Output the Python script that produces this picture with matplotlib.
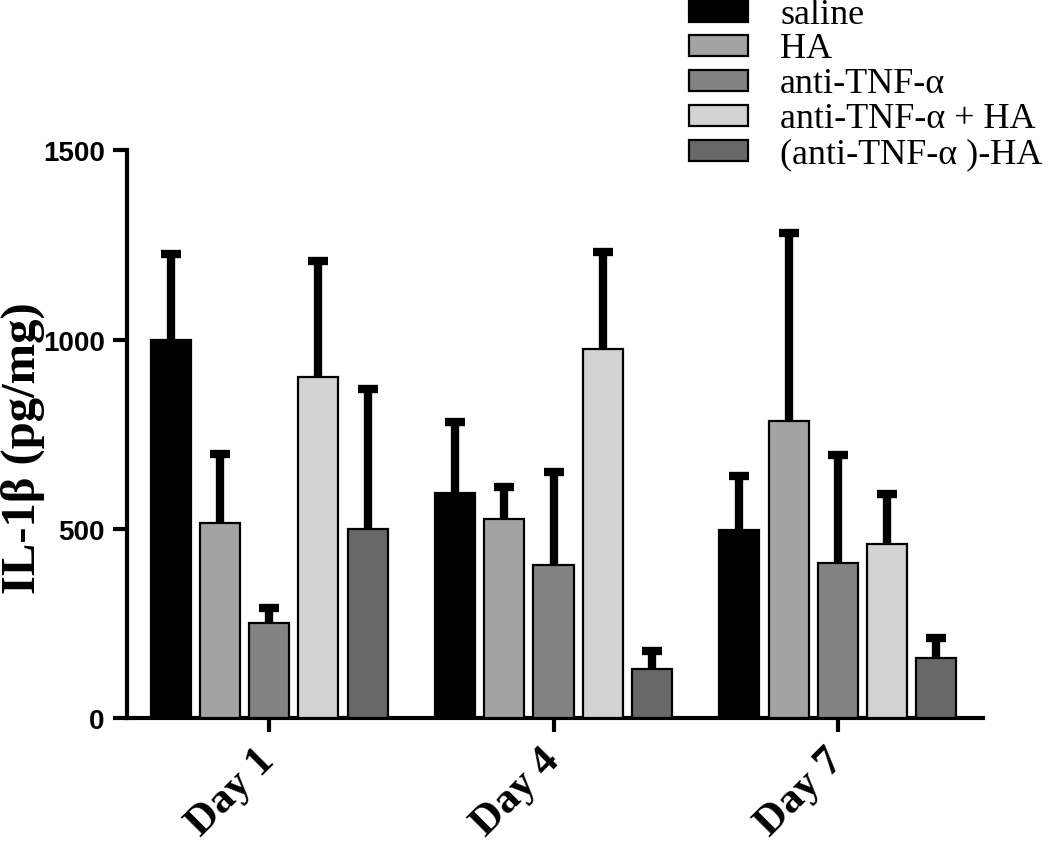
import matplotlib
matplotlib.use("Agg")
import matplotlib.pyplot as plt
from matplotlib.patches import Rectangle
import numpy as np

days = ["Day 1", "Day 4", "Day 7"]
groups = ["saline", "HA", "anti-TNF-\u03b1", "anti-TNF-\u03b1 + HA", "(anti-TNF-\u03b1 )-HA"]
colors = ["#000000", "#a3a3a3", "#838383", "#d2d2d2", "#686868"]

saline = [1000, 594, 497]
ha = [515, 527, 784]
anti_tnf = [250, 405, 411]
anti_tnf_plus_ha = [901, 976, 460]
anti_tnf_ha = [500, 129, 158]

saline_err = [226, 188, 143]
ha_err = [183, 84, 498]
anti_tnf_err = [42, 245, 284]
anti_tnf_plus_ha_err = [307, 256, 133]
anti_tnf_ha_err = [369, 48, 53]

means = [saline, ha, anti_tnf, anti_tnf_plus_ha, anti_tnf_ha]
errs = [saline_err, ha_err, anti_tnf_err, anti_tnf_plus_ha_err, anti_tnf_ha_err]

fig = plt.figure(figsize=(10.5, 8.45), dpi=100)
ax = fig.add_axes([0.121, 0.149, 0.815, 0.672])

x = np.arange(len(days))
pitch = 0.173
width = 0.141
for i, (m, e, c) in enumerate(zip(means, errs, colors)):
    pos = x + (i - 2) * pitch
    ax.bar(pos, m, width, color=c, edgecolor="black", linewidth=1.6, zorder=3)
    eb = ax.errorbar(pos, m, yerr=[np.zeros(len(e)), e], fmt="none", ecolor="black",
                     elinewidth=6, capsize=7.2, capthick=6, zorder=2)
    # only the upper cap is wanted
    eb[1][0].set_visible(False)

ax.set_xlim(-0.5, 2.51)
ax.set_ylim(0, 1500)
ax.set_yticks([0, 500, 1000, 1500])
ax.set_xticks(x)
ax.set_xticklabels(days, rotation=45, ha="right", va="center", rotation_mode="anchor",
                   fontfamily="Liberation Serif", fontweight="bold", fontsize=31)
for lab in ax.get_yticklabels():
    lab.set_fontfamily("Liberation Sans")
    lab.set_fontweight("bold")
    lab.set_fontsize(20)

ax.spines["top"].set_visible(False)
ax.spines["right"].set_visible(False)
ax.spines["left"].set_linewidth(3)
ax.spines["bottom"].set_linewidth(3)
ax.tick_params(axis="both", length=10, width=3, pad=6)
ax.tick_params(axis="x", pad=16)

fig.text(0.022, 0.47, "IL-1\u03b2 (pg/mg)", rotation=90, ha="center", va="center",
         fontfamily="Liberation Serif", fontweight="bold", fontsize=35)

# legend drawn by hand in the top right corner
row_y = [12, 46, 81, 116, 151]
for ry, g, c in zip(row_y, groups, colors):
    fy = 1 - ry / 845
    fig.patches.append(Rectangle((689 / 1050, fy - 10.5 / 845), 59 / 1050, 21 / 845,
                                 transform=fig.transFigure, facecolor=c,
                                 edgecolor="black", linewidth=1.6))
    fig.text(780 / 1050, 1 - (ry + 12) / 845, g, ha="left", va="baseline",
             fontfamily="Liberation Serif", fontsize=26)

fig.savefig("out.png", dpi=100)
